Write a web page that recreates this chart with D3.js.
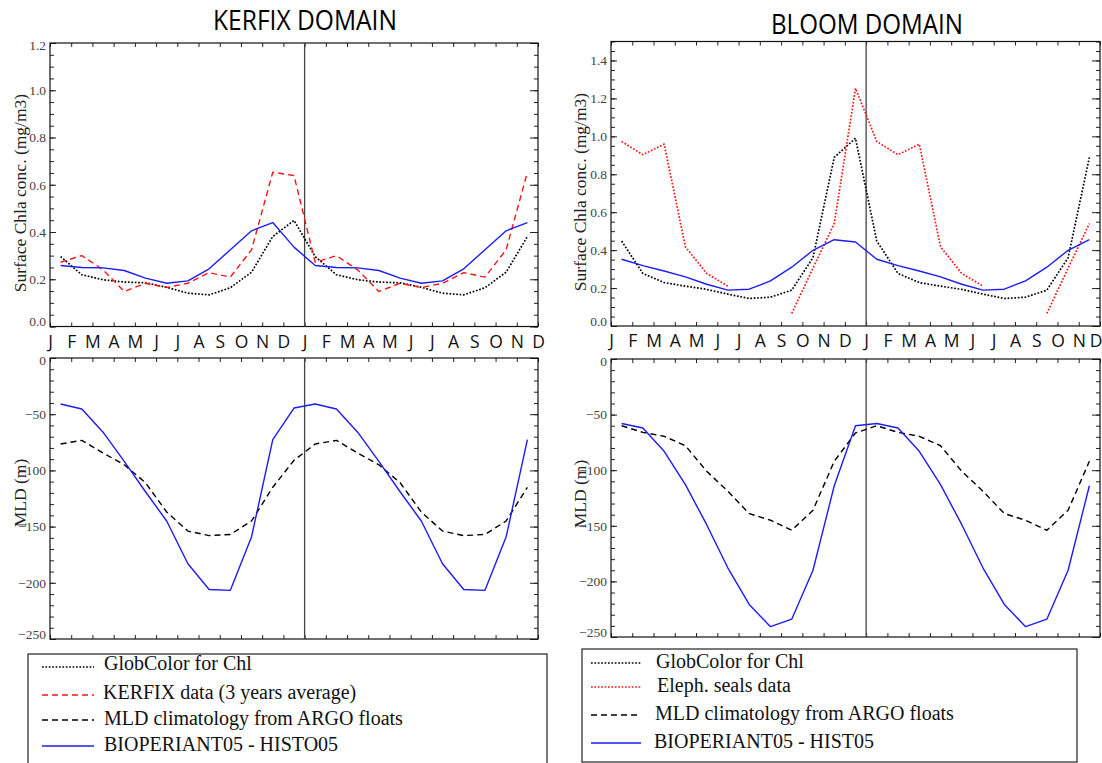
<!DOCTYPE html>
<html><head><meta charset="utf-8">
<script src="https://cdn.jsdelivr.net/npm/d3@7"></script>
<style>body{margin:0;background:#fff}svg{display:block}</style>
</head><body><svg id="c" width="1102" height="763"></svg>
<script>
// ---------- data (monthly climatology, mid-month values, Jan..Dec) ----------
const monthLabels = ["J","F","M","A","M","J","J","A","S","O","N","D","J","F","M","A","M","J","J","A","S","O","N","D"];

const kerfixGlobColor = [0.296, 0.219, 0.198, 0.188, 0.185, 0.166, 0.141, 0.134, 0.164, 0.230, 0.381, 0.449];
const kerfixData      = [0.272, 0.300, 0.240, 0.148, 0.183, 0.165, 0.183, 0.228, 0.209, 0.325, 0.653, 0.639];
const kerfixModelChl  = [0.258, 0.250, 0.248, 0.237, 0.205, 0.183, 0.193, 0.244, 0.325, 0.405, 0.440, 0.336];
const kerfixArgoMLD   = [-76.5, -73.3, -84.5, -95, -111, -137, -154, -158, -157, -145, -115, -91];
const kerfixModelMLD  = [-40.9, -45.4, -66, -92, -119, -145, -183, -206, -206.7, -159, -72.7, -44.5];

const bloomGlobColor  = [0.448, 0.277, 0.229, 0.210, 0.193, 0.168, 0.145, 0.152, 0.189, 0.360, 0.889, 0.990];
const bloomSeals      = [0.973, 0.903, 0.959, 0.417, 0.277, 0.210, null, null, 0.066, 0.305, 0.540, 1.253];
const bloomModelChl   = [0.352, 0.318, 0.290, 0.259, 0.220, 0.189, 0.194, 0.238, 0.310, 0.399, 0.455, 0.443];
const bloomArgoMLD    = [-60, -66, -69.5, -78, -101, -119, -139, -145, -154, -136, -92, -66.5];
const bloomModelMLD   = [-58, -62, -83, -113, -149, -188, -220.7, -240.7, -234, -190, -114, -60];

const legendLeft  = ["GlobColor for Chl", "KERFIX data (3 years average)", "MLD climatology from ARGO floats", "BIOPERIANT05 - HISTO05"];
const legendRight = ["GlobColor for Chl", "Eleph. seals data", "MLD climatology from ARGO floats", "BIOPERIANT05 - HIST05"];

// ---------- styles ----------
const BLUE = "#1c1cf5", RED = "#ff1414";
const styles = {
  dotBlack:  {stroke:"#000", width:1.7, dash:"1.7,1.7"},
  dotRed:    {stroke:RED, width:1.7, dash:"1.7,1.7"},
  dashRed:   {stroke:RED, width:1.4, dash:"6,4"},
  dashBlack: {stroke:"#000", width:1.4, dash:"6,4"},
  solidBlue: {stroke:BLUE, width:1.4, dash:null}
};

// climatology drawn over two consecutive years (Jan yr1 .. Nov yr2)
const twoYears = arr => arr.concat(arr.slice(0, 11)).map((v, i) => ({i: i + 0.5, v}));

const svg = d3.select("#c");
const SERIF = "'Liberation Serif', 'Times New Roman', serif";
const SANS = "'Open Sans', 'Noto Sans', sans-serif";

function panel(cfg) {
  const x = d3.scaleLinear().domain([0, 23]).range([cfg.x0, cfg.x1]);
  const y = d3.scaleLinear().domain(cfg.domain).range([cfg.yb, cfg.yt]);
  const g = svg.append("g");

  const fmt = cfg.fmt;
  const major = d3.range(cfg.domain[0], cfg.domain[1] + 1e-6, cfg.majorStep).filter(v => v <= cfg.labelMax + 1e-6);
  const minor = d3.range(cfg.domain[0], cfg.domain[1] + 1e-6, cfg.minorStep);
  const la = g.append("g").attr("transform", `translate(${cfg.x0},0)`)
    .call(d3.axisLeft(y).tickValues(major).tickSize(-6).tickSizeOuter(0).tickPadding(4).tickFormat(fmt));
  la.select(".domain").remove();
  la.selectAll("line").attr("stroke", "#222");
  la.selectAll("text").attr("font-family", SERIF).attr("font-size", 13.5).attr("fill", "#444")
    .attr("dy", d => (Math.abs(d - cfg.domain[0]) < 1e-6 ? "-0.05em" : (Math.abs(d - cfg.domain[1]) < 1e-6 ? "0.45em" : "0.32em")));
  const lm = g.append("g").attr("transform", `translate(${cfg.x0},0)`)
    .call(d3.axisLeft(y).tickValues(minor).tickSize(-4).tickSizeOuter(0).tickFormat(""));
  lm.select(".domain").remove(); lm.selectAll("line").attr("stroke", "#222");
  const ra = g.append("g").attr("transform", `translate(${cfg.x1},0)`)
    .call(d3.axisRight(y).tickValues(major).tickSize(-8).tickSizeOuter(0).tickFormat(""));
  ra.select(".domain").remove(); ra.selectAll("line").attr("stroke", "#222");
  const rm = g.append("g").attr("transform", `translate(${cfg.x1},0)`)
    .call(d3.axisRight(y).tickValues(minor).tickSize(-4).tickSizeOuter(0).tickFormat(""));
  rm.select(".domain").remove(); rm.selectAll("line").attr("stroke", "#222");

  const months = d3.range(0, 24);
  const ba = g.append("g").attr("transform", `translate(0,${cfg.yb})`)
    .call(d3.axisBottom(x).tickValues(months).tickSize(-4).tickSizeOuter(0).tickPadding(9)
      .tickFormat(i => cfg.monthText ? monthLabels[i] : ""));
  ba.select(".domain").remove(); ba.selectAll("line").attr("stroke", "#222");
  ba.selectAll("text").attr("font-family", SANS).attr("font-size", 17.5).attr("fill", "#111");
  if (cfg.clipLast) {
    ba.selectAll("text").filter(i => i === 23).attr("text-anchor", "end").attr("x", 1102 - cfg.x1);
  }
  const ta = g.append("g").attr("transform", `translate(0,${cfg.yt})`)
    .call(d3.axisTop(x).tickValues(months).tickSize(-4).tickSizeOuter(0).tickFormat(""));
  ta.select(".domain").remove(); ta.selectAll("line").attr("stroke", "#222");

  g.append("rect").attr("x", cfg.x0).attr("y", cfg.yt).attr("width", cfg.x1 - cfg.x0).attr("height", cfg.yb - cfg.yt)
    .attr("fill", "none").attr("stroke", "#111").attr("stroke-width", 1.2);
  g.append("line").attr("x1", x(12)).attr("x2", x(12)).attr("y1", cfg.yt).attr("y2", cfg.yb)
    .attr("stroke", "#444").attr("stroke-width", 1.3);

  const line = d3.line().defined(d => d.v != null).x(d => x(d.i)).y(d => y(d.v));
  cfg.series.forEach(s => {
    const st = styles[s.style];
    g.append("path").datum(twoYears(s.values)).attr("d", line)
      .attr("fill", "none").attr("stroke", st.stroke).attr("stroke-width", st.width)
      .attr("stroke-dasharray", st.dash).attr("stroke-linejoin", "round");
  });

  g.append("text").attr("transform", `translate(${cfg.titleX},${cfg.titleY}) rotate(-90)`)
    .attr("text-anchor", "middle").attr("font-family", SERIF).attr("font-size", 17.5).attr("fill", "#222")
    .text(cfg.yTitle);
}

const f1 = d3.format(".1f");
const fi = d => d3.format("d")(d);

panel({x0:50, x1:538, yt:43, yb:326.5, domain:[0,1.2], majorStep:0.2, minorStep:0.05, labelMax:1.2, fmt:f1,
  monthText:true, titleX:26, titleY:193, yTitle:"Surface Chla conc. (mg/m3)",
  series:[{values:kerfixGlobColor, style:"dotBlack"},{values:kerfixData, style:"dashRed"},{values:kerfixModelChl, style:"solidBlue"}]});
panel({x0:50, x1:538, yt:358, yb:639, domain:[-250,0], majorStep:50, minorStep:10, labelMax:0, fmt:fi,
  monthText:false, titleX:26, titleY:493, yTitle:"MLD (m)",
  series:[{values:kerfixArgoMLD, style:"dashBlack"},{values:kerfixModelMLD, style:"solidBlue"}]});
panel({x0:611, x1:1100, yt:41.5, yb:326, domain:[0,1.5], majorStep:0.2, minorStep:0.05, labelMax:1.4, fmt:f1,
  monthText:true, clipLast:true, titleX:586, titleY:192, yTitle:"Surface Chla conc. (mg/m3)",
  series:[{values:bloomGlobColor, style:"dotBlack"},{values:bloomSeals, style:"dotRed"},{values:bloomModelChl, style:"solidBlue"}]});
panel({x0:611, x1:1100, yt:359, yb:637, domain:[-250,0], majorStep:50, minorStep:10, labelMax:0, fmt:fi,
  monthText:false, titleX:586, titleY:494, yTitle:"MLD (m)",
  series:[{values:bloomArgoMLD, style:"dashBlack"},{values:bloomModelMLD, style:"solidBlue"}]});

svg.append("text").attr("x", 305).attr("y", 30).attr("text-anchor", "middle").attr("font-family", SANS)
  .attr("font-size", 27).attr("fill", "#000").attr("textLength", 184).attr("lengthAdjust", "spacingAndGlyphs").text("KERFIX DOMAIN");
svg.append("text").attr("x", 867).attr("y", 34).attr("text-anchor", "middle").attr("font-family", SANS)
  .attr("font-size", 27).attr("fill", "#000").attr("textLength", 192).attr("lengthAdjust", "spacingAndGlyphs").text("BLOOM DOMAIN");

function legend(cfg) {
  const g = svg.append("g");
  g.append("rect").attr("x", cfg.x).attr("y", cfg.y).attr("width", cfg.w).attr("height", cfg.h)
    .attr("fill", "none").attr("stroke", "#222").attr("stroke-width", 1.2);
  cfg.items.forEach((t, k) => {
    const st = styles[cfg.styles[k]];
    g.append("line").attr("x1", cfg.lx0).attr("x2", cfg.lx1).attr("y1", cfg.ly[k]).attr("y2", cfg.ly[k])
      .attr("stroke", st.stroke).attr("stroke-width", st.width * 0.9).attr("stroke-dasharray", st.dash);
    g.append("text").attr("x", cfg.tx[k]).attr("y", cfg.ty[k]).attr("font-family", SERIF).attr("font-size", cfg.fs)
      .attr("fill", "#111").text(t);
  });
}
legend({x:28, y:654, w:519, h:120, lx0:42, lx1:94, ly:[667, 695, 720, 746], tx:[104,103,104,104], ty:[670,699,725,751], fs:20,
  items:legendLeft, styles:["dotBlack","dashRed","dashBlack","solidBlue"]});
legend({x:582, y:649, w:495, h:113, lx0:591, lx1:641, ly:[663, 687, 715, 743], tx:[656,657,655,654], ty:[668,692,720,748], fs:20,
  items:legendRight, styles:["dotBlack","dotRed","dashBlack","solidBlue"]});
</script></body></html>
